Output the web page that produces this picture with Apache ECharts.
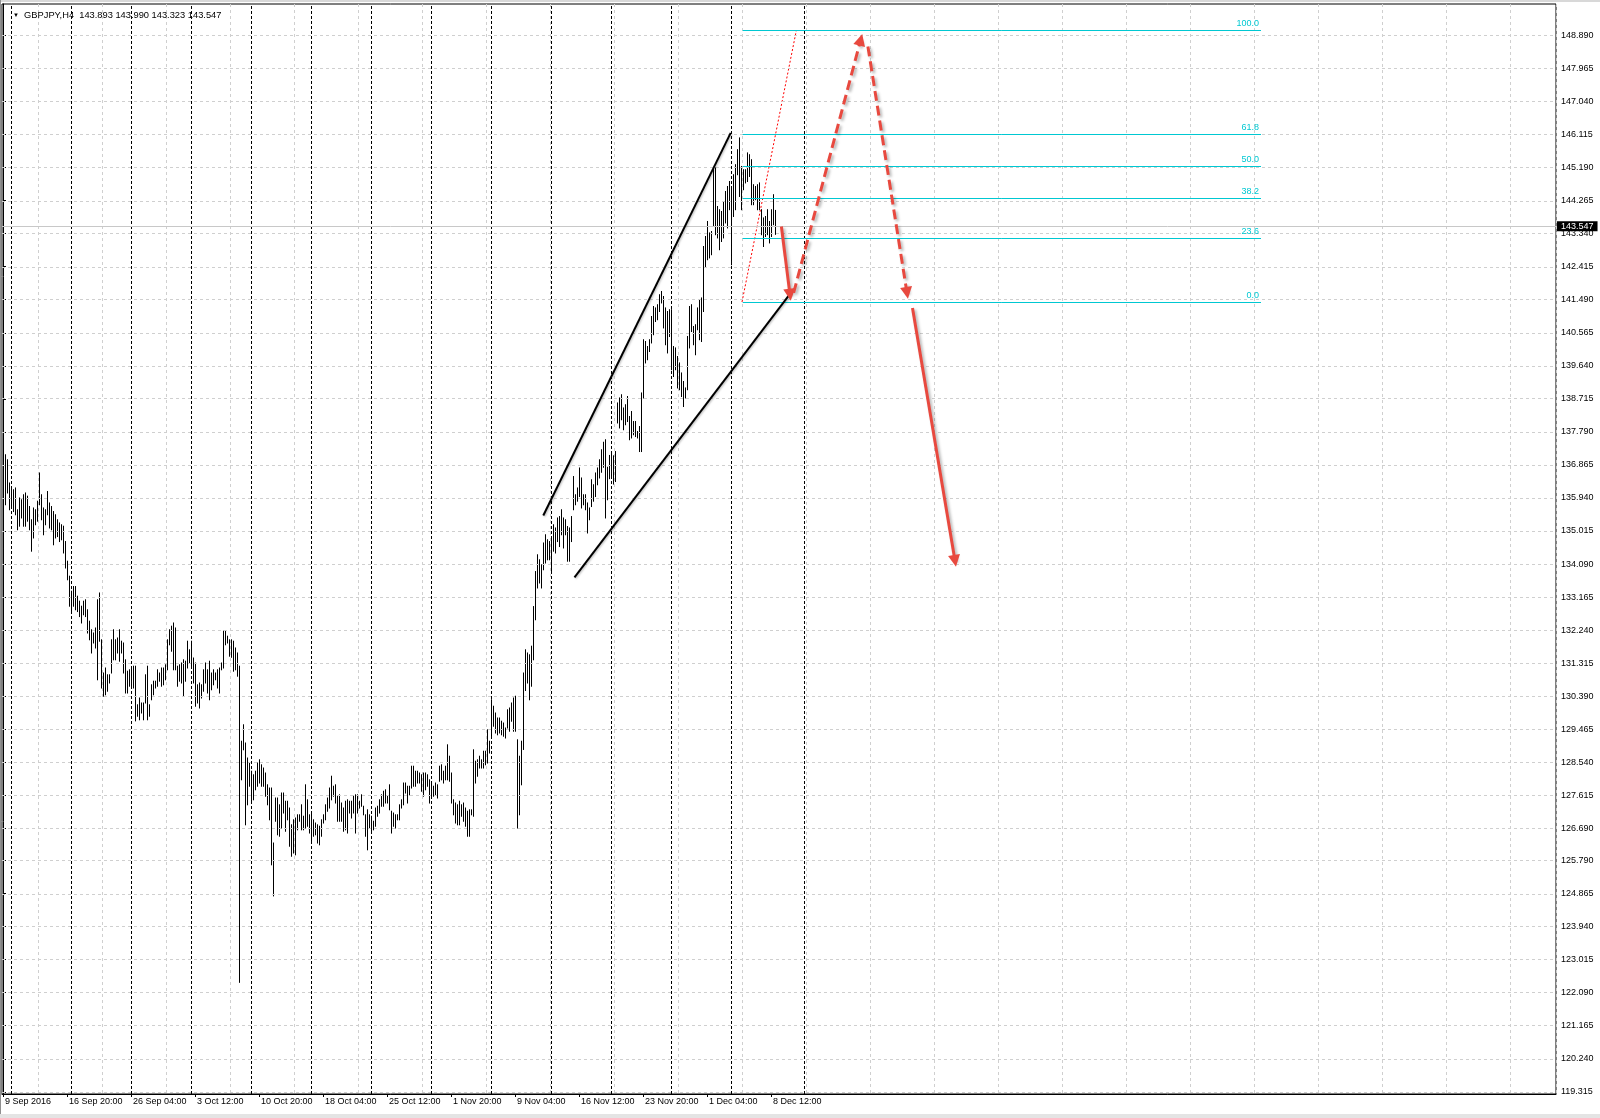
<!DOCTYPE html>
<html>
<head>
<meta charset="utf-8">
<script src="https://cdn.jsdelivr.net/npm/echarts@6/dist/echarts.min.js"></script>
<style>
html,body{margin:0;padding:0;background:#fff;}
#c{width:1600px;height:1118px;}
</style>
</head>
<body>
<div id="c"></div>
<script>
// ---------- data ----------
const symbolName = 'GBPJPY,H4';
const lastOHLC = [143.893, 143.990, 143.323, 143.547];

const highs = [
137.01,137.15,137.01,136.36,136.26,136.17,136.22,135.61,135.94,135.89,
136.03,136.08,135.99,135.70,135.33,135.66,135.61,135.85,136.64,136.03,
135.66,135.61,136.12,135.80,135.70,135.56,135.47,135.33,135.24,135.19,
135.15,134.72,134.17,133.75,133.33,133.46,133.46,133.19,133.05,132.91,
133.05,133.09,132.81,132.49,132.25,132.16,132.30,133.09,133.28,131.97,
131.04,131.18,130.99,130.99,131.97,132.25,131.97,132.02,132.25,131.93,
131.88,131.41,131.09,131.13,131.18,131.23,131.23,130.15,130.34,130.20,
130.20,130.99,131.23,130.15,130.71,130.81,130.81,131.13,131.04,131.18,
131.18,131.27,131.97,132.25,132.35,132.44,132.30,131.23,131.27,131.32,
131.41,131.37,131.93,131.69,131.93,131.46,131.32,130.71,130.76,130.71,
131.13,131.32,131.13,131.37,131.04,131.13,131.04,131.13,131.18,131.32,
132.21,132.21,132.07,131.97,131.97,131.93,131.74,131.60,131.23,129.13,
129.59,129.08,128.66,128.52,128.29,128.19,128.29,128.52,128.61,128.47,
128.38,128.24,127.91,127.82,127.82,126.28,127.54,127.54,127.35,127.68,
127.68,127.45,127.45,127.26,126.79,126.93,126.98,127.07,127.07,127.35,
127.03,127.91,127.49,127.07,127.12,126.93,126.84,126.79,126.75,126.93,
127.07,127.35,127.54,127.82,128.15,127.87,127.91,127.59,127.63,127.40,
127.26,127.45,127.49,127.45,127.45,127.59,127.63,127.63,127.45,127.63,
127.31,127.07,127.21,127.07,127.03,126.89,127.26,127.31,127.49,127.63,
127.73,127.77,127.59,127.91,127.17,127.12,127.07,127.07,127.35,127.49,
127.96,127.96,127.87,127.87,128.43,128.43,128.29,128.29,128.24,128.19,
128.24,128.24,128.19,128.05,127.96,127.87,127.96,127.91,128.43,128.47,
128.29,128.43,129.03,128.71,128.24,127.49,127.40,127.35,127.45,127.35,
127.40,127.26,127.17,127.21,127.21,128.89,128.57,128.61,128.71,128.61,
128.85,128.85,129.45,129.13,130.29,130.11,129.92,129.78,129.78,129.69,
129.64,129.50,130.01,130.06,130.20,130.34,130.39,129.17,128.71,129.13,
131.04,131.69,131.60,131.55,131.79,132.90,133.88,134.35,134.21,134.07,
134.68,134.91,134.77,134.72,134.82,135.19,135.10,135.38,135.42,135.61,
135.38,135.33,135.14,135.10,135.42,136.54,136.03,136.22,136.78,136.50,
136.03,136.03,135.80,135.66,136.45,136.31,136.64,136.78,137.01,137.29,
137.50,137.57,136.80,137.13,137.20,137.12,137.24,138.60,138.74,138.83,
138.46,138.55,138.78,138.22,138.36,138.08,138.08,137.80,137.94,138.88,
140.37,140.32,140.18,140.37,141.02,141.30,141.26,141.35,141.63,141.72,
141.58,141.26,141.16,141.21,141.21,140.18,140.14,139.90,139.72,139.44,
139.20,139.02,140.46,141.30,141.35,140.74,140.79,141.26,141.49,141.54,
142.98,143.26,143.68,143.36,143.40,145.18,145.18,144.10,144.01,143.96,
144.24,144.52,144.66,144.80,144.66,144.99,145.27,145.69,146.02,145.22,
145.13,145.13,145.60,145.55,145.41,144.71,144.66,144.71,144.76,144.01,
143.78,143.82,144.01,143.68,144.01,144.43,143.99
];

const lows = [
135.99,135.75,136.08,135.61,135.70,135.56,135.47,135.05,135.15,135.38,
135.15,135.15,135.29,135.05,134.45,134.82,135.19,135.29,135.75,135.33,
134.91,135.19,135.47,135.10,135.05,134.63,134.82,134.86,134.72,134.77,
134.40,133.98,133.65,132.91,132.76,132.91,132.81,132.76,132.62,132.44,
132.67,132.62,132.16,131.97,131.60,131.88,131.74,130.85,131.93,130.62,
130.39,130.43,130.53,130.76,131.04,131.41,131.41,131.60,131.37,131.60,
131.04,130.48,130.48,130.67,130.67,130.62,129.70,129.83,129.73,129.92,
129.73,130.20,129.73,129.83,130.29,130.43,130.62,130.67,130.81,130.67,
130.71,130.85,131.13,131.83,131.65,131.13,131.13,130.67,130.81,130.76,
130.39,130.81,131.18,131.32,131.18,130.76,130.11,130.20,130.06,130.34,
130.53,130.76,130.48,130.29,130.57,130.71,130.85,130.62,130.48,131.13,
131.18,131.83,131.88,131.51,131.48,131.09,131.13,130.95,122.38,128.05,
128.89,126.79,127.35,127.87,127.45,127.49,127.77,127.87,127.96,127.87,
127.87,127.59,127.35,126.93,125.67,124.80,126.89,126.51,126.47,126.70,
127.12,126.61,126.93,126.19,125.91,126.00,125.95,126.65,126.89,126.65,
126.65,126.70,126.75,126.56,126.33,126.47,126.51,126.28,126.23,126.47,
126.84,126.93,127.17,127.26,127.49,127.59,127.40,126.89,126.89,126.89,
126.61,126.65,126.56,127.12,126.98,127.12,126.56,127.12,127.26,127.31,
127.07,126.47,126.09,126.70,126.61,126.65,126.75,127.03,127.12,127.31,
127.31,127.40,127.40,127.21,126.56,126.75,126.70,126.93,126.93,127.26,
127.35,127.68,127.40,127.63,127.82,127.87,127.87,127.96,127.96,127.73,
127.59,127.77,127.87,127.40,127.59,127.59,127.63,127.54,128.01,128.05,
127.96,128.05,128.05,128.01,127.40,127.07,126.84,126.79,126.79,127.03,
126.89,126.75,126.47,126.47,127.07,127.03,127.96,128.15,128.38,128.38,
128.38,128.47,128.52,128.80,129.22,129.55,129.36,129.31,129.36,129.31,
129.27,129.22,129.50,129.41,129.69,129.41,129.41,126.70,127.07,127.91,
128.90,130.55,130.76,130.29,130.67,131.41,132.53,133.42,133.56,133.42,
133.93,134.12,134.21,134.21,133.89,134.45,134.40,134.72,134.58,134.91,
134.54,134.91,134.17,134.17,134.72,135.61,135.75,135.85,135.98,135.66,
135.75,135.61,134.96,135.33,135.70,135.85,135.98,136.31,136.50,136.66,
136.80,135.38,135.89,136.48,136.52,136.33,136.40,138.04,137.90,138.13,
137.85,137.99,138.08,137.57,137.62,137.71,137.66,137.62,137.24,137.24,
138.74,139.72,139.81,140.04,140.28,140.51,140.88,140.93,141.16,141.40,
140.70,140.23,140.00,140.46,139.53,139.34,139.53,139.02,138.97,138.78,
138.50,138.74,138.97,140.14,140.60,140.23,139.95,140.65,140.37,140.32,
141.16,142.42,142.61,142.66,142.75,143.54,143.31,143.22,142.89,143.12,
143.22,143.64,143.50,144.01,142.47,143.82,144.01,144.99,144.38,144.01,
144.57,144.76,144.80,144.94,144.15,144.15,144.29,144.01,144.01,143.31,
142.98,143.26,143.31,143.08,143.26,143.59,143.32
];

// time axis labels (one every 32 H4 bars)
const xLabels = ['9 Sep 2016','16 Sep 20:00','26 Sep 04:00','3 Oct 12:00','10 Oct 20:00',
  '18 Oct 04:00','25 Oct 12:00','1 Nov 20:00','9 Nov 04:00','16 Nov 12:00',
  '23 Nov 20:00','1 Dec 04:00','8 Dec 12:00'];

// price axis labels as printed
const yTicks = [119.315,120.240,121.165,122.090,123.015,123.940,124.865,125.790,126.690,
  127.615,128.540,129.465,130.390,131.315,132.240,133.165,134.090,135.015,135.940,
  136.865,137.790,138.715,139.640,140.565,141.490,142.415,143.340,144.265,145.190,
  146.115,147.040,147.965,148.890];

// weekly period separators (bar index) and an extra vertical line
const separators = [4,34,64,94,124,154,184,214,244,274,304,334,364,400.5];

// fibonacci retracement
const fibLow = 141.426, fibHigh = 149.038;
const fibLevels = [0, 23.6, 38.2, 50, 61.8, 100];
const fibX = [369.85, 629];          // bar index range of level lines
const fibDiag = [[369.5, 141.426], [396.7, 149.038]];

// hand drawn annotations [barIndex, price]
const channelLines = [
  [[270.15, 135.45], [363.85, 146.16]],
  [[285.75, 133.72], [394.0, 141.69]]
];
const arrowsSolid = [
  [[389.2, 143.54], [393.5, 141.63]],
  [[454.75, 141.26], [476.0, 134.18]]
];
const arrowsDashed = [
  [[395.3, 141.68], [428.85, 148.77]],
  [[432.45, 148.58], [452.0, 141.68]]
];

// ---------- chart ----------
const NCAT = 777;
const cats = Array.from({length: NCAT}, (_, i) => String(i));
const FONT = 'Liberation Sans';
const RED = '#e8493f';
const CYAN = '#00c8d2';

const chart = echarts.init(document.getElementById('c'), null, {renderer: 'canvas'});

const barData = highs.map((h, i) => [i, lows[i], h]);

const option = {
  animation: false,
  backgroundColor: '#ffffff',
  textStyle: {fontFamily: FONT},
  title: {
    left: 8, top: 6,
    text: '{tri|▼}  ' + symbolName + '  ' + lastOHLC.map(v => v.toFixed(3)).join(' '),
    textStyle: {
      fontFamily: FONT, fontSize: 9.3, fontWeight: 'normal', color: '#000',
      rich: {tri: {fontSize: 6, color: '#000', fontFamily: FONT}}
    }
  },
  graphic: [
    {type: 'rect', left: 0, top: 0, shape: {width: 1600, height: 2}, style: {fill: '#d8d8d8'}, silent: true},
    {type: 'rect', left: 0, top: 0, shape: {width: 1, height: 1118}, style: {fill: '#909090'}, silent: true},
    {type: 'rect', left: 0, top: 1114, shape: {width: 1600, height: 4}, style: {fill: '#e4e4e4'}, silent: true}
  ],
  grid: {
    left: 2, right: 44, top: 4, bottom: 24,
    show: true, borderColor: '#000', borderWidth: 1, backgroundColor: 'transparent'
  },
  xAxis: [{
    type: 'category', data: cats, boundaryGap: true,
    axisLine: {show: true, lineStyle: {color: '#000', width: 1}},
    axisTick: {
      show: true, alignWithLabel: true, length: 3,
      interval: (idx) => idx % 32 === 0 && idx / 32 < xLabels.length,
      lineStyle: {color: '#000'}
    },
    axisLabel: {
      interval: (idx) => idx % 32 === 0 && idx / 32 < xLabels.length,
      formatter: (v, idx) => xLabels[Math.round(Number(v) / 32)] || '',
      align: 'left', margin: 3, padding: [0, 0, 0, 2],
      fontFamily: FONT, fontSize: 9, color: '#000'
    },
    splitLine: {
      show: true,
      interval: (idx) => idx % 32 === 18,
      lineStyle: {color: '#cfcfcf', type: [3, 3], width: 1}
    }
  }, {
    type: 'value', min: -0.5, max: NCAT - 0.5, show: false
  }],
  yAxis: {
    type: 'value', position: 'right', min: 119.254, max: 149.769,
    axisLine: {show: true, lineStyle: {color: '#000', width: 1}},
    axisTick: {show: true, length: 3, customValues: yTicks, lineStyle: {color: '#000'}},
    axisLabel: {
      customValues: yTicks, formatter: (v) => Number(v).toFixed(3),
      margin: 5, fontFamily: FONT, fontSize: 9, color: '#000'
    },
    splitLine: {show: false}
  },
  series: [
    // horizontal price grid
    {
      type: 'line', xAxisIndex: 1, yAxisIndex: 0, data: [], silent: true,
      markLine: {
        silent: true, symbol: 'none', animation: false,
        label: {show: false},
        lineStyle: {color: '#cfcfcf', type: [3, 3], width: 1},
        data: yTicks.map(v => ({yAxis: v}))
      }
    },
    // weekly separators
    {
      type: 'line', xAxisIndex: 1, yAxisIndex: 0, data: [], silent: true,
      markLine: {
        silent: true, symbol: 'none', animation: false,
        label: {show: false},
        lineStyle: {color: '#000', type: [3, 2], width: 1},
        data: separators.map(s => ({xAxis: s}))
      }
    },
    // bid line + price box
    {
      type: 'line', xAxisIndex: 1, yAxisIndex: 0, data: [], silent: true,
      markLine: {
        silent: true, symbol: 'none', animation: false,
        lineStyle: {color: '#c8c8c8', type: 'solid', width: 1},
        label: {
          show: true, position: 'end', distance: 1,
          formatter: () => lastOHLC[3].toFixed(3),
          backgroundColor: '#000', color: '#fff', fontFamily: FONT, fontSize: 9,
          lineHeight: 10, padding: [0, 4, 0, 4]
        },
        data: [{yAxis: lastOHLC[3]}]
      },
      z: 5
    },
    // price bars (high-low lines)
    {
      type: 'custom', xAxisIndex: 1, yAxisIndex: 0, data: barData, silent: true, z: 3,
      renderItem: (params, api) => {
        const i = api.value(0);
        const pLow = api.coord([i, api.value(1)]);
        const pHigh = api.coord([i, api.value(2)]);
        const x = Math.round(pLow[0]) + 0.5;
        return {
          type: 'line',
          shape: {x1: x, y1: pLow[1] + 0.5, x2: x, y2: pHigh[1] - 0.5},
          style: {stroke: '#000', lineWidth: 1}
        };
      }
    },
    // fibonacci level lines
    {
      type: 'line', xAxisIndex: 1, yAxisIndex: 0, data: [], silent: true, z: 4,
      markLine: {
        silent: true, symbol: 'none', animation: false,
        lineStyle: {color: CYAN, type: 'solid', width: 1},
        label: {
          show: true, position: 'insideEndTop', distance: 2,
          color: CYAN, fontFamily: FONT, fontSize: 9
        },
        data: fibLevels.map(l => {
          const p = fibLow + (fibHigh - fibLow) * l / 100;
          return [
            {coord: [fibX[0], p], label: {formatter: l.toFixed(1)}},
            {coord: [fibX[1], p]}
          ];
        })
      }
    },
    // fibonacci diagonal (red dotted)
    {
      type: 'lines', coordinateSystem: 'cartesian2d', xAxisIndex: 1, yAxisIndex: 0,
      silent: true, z: 4, symbol: 'none',
      lineStyle: {color: '#ff0000', width: 1, type: [2, 2], opacity: 1},
      data: [{coords: fibDiag}]
    },
    // channel lines
    {
      type: 'lines', coordinateSystem: 'cartesian2d', xAxisIndex: 1, yAxisIndex: 0,
      silent: true, z: 6, symbol: 'none',
      lineStyle: {color: '#000', width: 2, opacity: 1,
        shadowColor: 'rgba(0,0,0,0.25)', shadowBlur: 2, shadowOffsetX: 1, shadowOffsetY: 1},
      data: channelLines.map(c => ({coords: c}))
    },
    // red solid arrows
    {
      type: 'lines', coordinateSystem: 'cartesian2d', xAxisIndex: 1, yAxisIndex: 0,
      silent: true, z: 7, symbol: ['none', 'triangle'], symbolSize: [8, 12],
      lineStyle: {color: RED, width: 3, opacity: 1,
        shadowColor: 'rgba(0,0,0,0.3)', shadowBlur: 3, shadowOffsetX: 2, shadowOffsetY: 2},
      itemStyle: {color: RED},
      data: arrowsSolid.map(c => ({coords: c}))
    },
    // red dashed arrows
    {
      type: 'lines', coordinateSystem: 'cartesian2d', xAxisIndex: 1, yAxisIndex: 0,
      silent: true, z: 7, symbol: ['none', 'triangle'], symbolSize: [8, 12],
      lineStyle: {color: RED, width: 3, type: [10, 5], opacity: 1,
        shadowColor: 'rgba(0,0,0,0.3)', shadowBlur: 3, shadowOffsetX: 2, shadowOffsetY: 2},
      itemStyle: {color: RED},
      data: arrowsDashed.map(c => ({coords: c}))
    }
  ]
};

chart.setOption(option);
</script>
</body>
</html>
